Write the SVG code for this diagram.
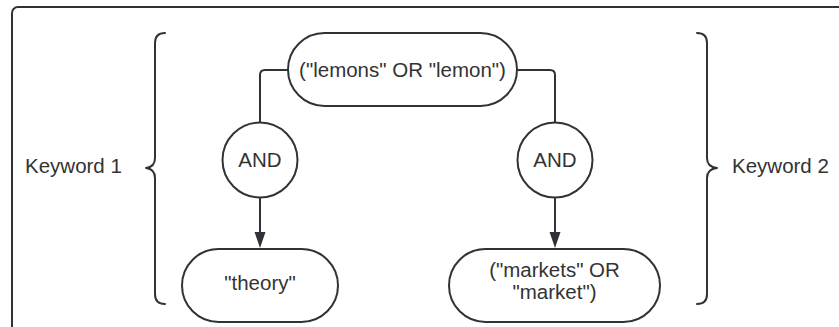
<svg xmlns="http://www.w3.org/2000/svg" width="839" height="327" viewBox="0 0 839 327">
<style>
  .shape { fill: #ffffff; stroke: #2f3337; stroke-width: 2; }
  .line { fill: none; stroke: #2f3337; stroke-width: 2; }
  .brace { fill: none; stroke: #2f3337; stroke-width: 2; stroke-linecap: round; stroke-linejoin: round; }
  .label { font-family: "Liberation Sans", Arial, sans-serif; font-size: 20.5px; fill: #333333; text-anchor: middle; }
  .side { font-family: "Liberation Sans", Arial, sans-serif; font-size: 20.5px; fill: #333333; text-anchor: start; }
</style>
<defs>
  <marker id="arrow" viewBox="0 0 12 17" refX="11.5" refY="6" markerWidth="17" markerHeight="12" markerUnits="userSpaceOnUse" orient="auto">
    <path d="M0,0 L17,6 L0,12 Z" fill="#2f3337" transform="scale(0.7,1)"/>
  </marker>
</defs>
<rect width="839" height="327" fill="#ffffff"/>
<g id="frame">
  <rect x="12" y="7" width="860" height="350" rx="6" ry="6" class="line"/>
</g>
<g id="brace-left">
  <path class="brace" d="M165,33 Q155,33 155,43 L155,158 Q155,167 146,168 Q155,169 155,178 L155,294 Q155,304 165,304"/>
  <text class="side" x="25" y="173">Keyword 1</text>
</g>
<g id="brace-right">
  <path class="brace" d="M697,33 Q707,33 707,43 L707,158 Q707,167 717,168 Q707,169 707,178 L707,294 Q707,304 697,304"/>
  <text class="side" x="732" y="173">Keyword 2</text>
</g>
<g id="connectors">
  <path class="line" d="M288,70 L265,70 Q260,70 260,75 L260,123"/>
  <path class="line" d="M517,70 L550,70 Q555,70 555,75 L555,123"/>
  <path class="line" d="M260,197 L260,233"/>
  <path class="line" d="M555,197 L555,233"/>
  <path d="M254.5,232 L265.5,232 L260,248 Z" fill="#2f3337"/>
  <path d="M549.5,232 L560.5,232 L555,248 Z" fill="#2f3337"/>
</g>
<g id="node-lemons">
  <rect class="shape" x="288" y="33" width="229" height="73" rx="36.5" ry="36.5"/>
  <text class="label" x="402.5" y="77">("lemons" OR "lemon")</text>
</g>
<g id="node-and-left">
  <circle class="shape" cx="260" cy="160" r="37.5"/>
  <text class="label" x="260" y="167">AND</text>
</g>
<g id="node-and-right">
  <circle class="shape" cx="555" cy="160" r="37.5"/>
  <text class="label" x="555" y="167">AND</text>
</g>
<g id="node-theory">
  <rect class="shape" x="182" y="249" width="156" height="73" rx="36.5" ry="36.5"/>
  <text class="label" x="260" y="290">"theory"</text>
</g>
<g id="node-markets">
  <rect class="shape" x="449" y="249" width="211" height="73" rx="36.5" ry="36.5"/>
  <text class="label" x="554.5" y="277">("markets" OR</text>
  <text class="label" x="554.5" y="299">"market")</text>
</g>
</svg>
